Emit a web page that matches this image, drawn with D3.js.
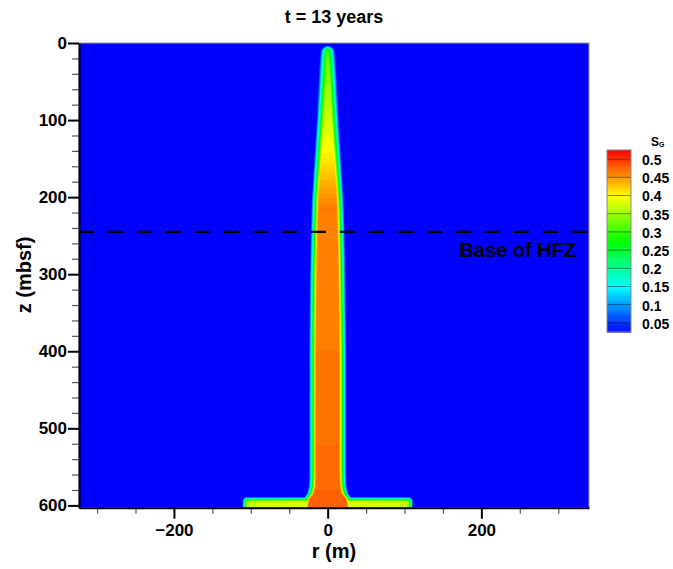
<!DOCTYPE html>
<html><head><meta charset="utf-8">
<script src="https://cdn.jsdelivr.net/npm/d3@7"></script>
<style>
body{margin:0;background:#fff;}
svg{display:block;}
text{font-family:Arial,"Liberation Sans",sans-serif;font-weight:bold;fill:#000;}
</style>
</head><body>
<svg id="c" width="673" height="569"></svg>
<script>
// ---------- data ----------
const title = "t = 13 years";
const xLabel = "r (m)";
const yLabel = "z (mbsf)";
const xDomain = [-323.5, 340];
const zDomain = [0, 603];
const xMajorTicks = [-200, 0, 200];
const xMinorTicks = [-300, -250, -150, -100, -50, 50, 100, 150, 250, 300];
const zMajorTicks = [0, 100, 200, 300, 400, 500, 600];
const zMinorTicks = [20, 40, 60, 80, 120, 140, 160, 180, 220, 240, 260, 280, 320, 340, 360, 380,
                     420, 440, 460, 480, 520, 540, 560, 580];

// gas plume trunk: outer half-width (m) versus depth
const trunkDepth     = [2.5, 5, 10, 20, 40, 70, 100, 150, 200, 250, 300, 400, 500, 560, 575, 585, 592, 603];
const trunkHalfWidth = [4, 8, 10, 11, 12, 13.5, 15, 18, 21, 22.5, 23.5, 24.5, 24.5, 24.5, 25, 27.5, 33, 35];
// gas saturation on the plume axis versus depth
const coreDepth = [0, 20, 50, 100, 150, 190, 215, 235, 260, 300, 400, 500, 580, 603];
const coreSg    = [0.31, 0.325, 0.345, 0.375, 0.41, 0.445, 0.465, 0.462, 0.46, 0.462, 0.465, 0.468, 0.475, 0.48];
const plumeTop = 2.5;

// gas layer spreading along the bottom boundary
const layerTop = 589;
const layerHalfLength = 111;
const layerR  = [0, 30, 60, 90, 105, 111];
const layerSg = [0.40, 0.385, 0.38, 0.375, 0.36, 0.34];

// base of hydrate free zone
const hfzDepth = 245;
const hfzLabel = "Base of HFZ";

// colour legend
const cbTitle = "S";
const cbSub = "G";
const cbLevels = [0.05, 0.1, 0.15, 0.2, 0.25, 0.3, 0.35, 0.4, 0.45, 0.5];
const cbLabels = ["0.05", "0.1", "0.15", "0.2", "0.25", "0.3", "0.35", "0.4", "0.45", "0.5"];
const cbRange = [0.025, 0.525];
const cmapStops = [0.025, 0.15, 0.275, 0.4, 0.525];
const cmapColors = ["#0000ff", "#00ffff", "#00ff00", "#ffff00", "#ff0000"];

// ---------- chart ----------
const svg = d3.select("#c");
const plot = {left: 79, right: 589, top: 43, bottom: 507.7};
const x = d3.scaleLinear().domain(xDomain).range([plot.left, plot.right]);
const y = d3.scaleLinear().domain(zDomain).range([plot.top, plot.bottom]);
const cmap = d3.scaleLinear().domain(cmapStops).range(cmapColors).clamp(true);

const hwS = d3.scaleLinear().domain(trunkDepth).range(trunkHalfWidth).clamp(true);
const coreS = d3.scaleLinear().domain(coreDepth).range(coreSg).clamp(true);
const layerS = d3.scaleLinear().domain(layerR).range(layerSg).clamp(true);

const edgeW = 10, capW = 6, edgeL = 6, cornerR = 5;
const clamp01 = v => Math.max(0, Math.min(1, v));

function field(r, z) {
  let t = 0;
  if (z >= plumeTop) {
    const a = clamp01((hwS(z) - Math.abs(r)) / edgeW);
    const b = clamp01((z - plumeTop) / capW);
    t = coreS(z) * a * b;
  }
  let l = 0;
  const dx = layerHalfLength - Math.abs(r), dzz = z - layerTop;
  if (dx > 0 && dzz > 0) {
    let d;
    if (dx < cornerR && dzz < cornerR) d = cornerR - Math.hypot(cornerR - dx, cornerR - dzz);
    else d = Math.min(dx, dzz);
    l = layerS(Math.abs(r)) * clamp01(d / edgeL);
  }
  return Math.max(t, l);
}

const dr = 0.5, dz = 1, r0 = -125, r1 = 125;
const nx = Math.round((r1 - r0) / dr) + 1;
const nz = Math.round((zDomain[1] - zDomain[0]) / dz) + 1;
const values = new Float64Array(nx * nz);
for (let j = 0; j < nz; j++) {
  const z = zDomain[0] + j * dz;
  for (let i = 0; i < nx; i++) values[j * nx + i] = field(r0 + i * dr, z);
}

const defs = svg.append("defs");
defs.append("clipPath").attr("id", "clip").append("rect")
  .attr("x", plot.left).attr("y", plot.top)
  .attr("width", plot.right - plot.left).attr("height", plot.bottom - plot.top);

const gPlot = svg.append("g").attr("clip-path", "url(#clip)");
gPlot.append("rect")
  .attr("x", plot.left).attr("y", plot.top)
  .attr("width", plot.right - plot.left).attr("height", plot.bottom - plot.top)
  .attr("fill", cmap(0));

const thresholds = d3.range(0, 100).map(k => 0.03 + k * 0.005).filter(v => v < 0.53);
const contours = d3.contours().size([nx, nz]).thresholds(thresholds)(values);
const proj = d3.geoTransform({
  point(px, py) { this.stream.point(x(r0 + (px - 0.5) * dr), y(zDomain[0] + (py - 0.5) * dz)); }
});
const path = d3.geoPath(proj);
gPlot.selectAll("path.c").data(contours).join("path")
  .attr("class", "c")
  .attr("d", path)
  .attr("fill", d => cmap(d.value + 0.0025))
  .attr("stroke", d => cmap(d.value + 0.0025))
  .attr("stroke-width", 0.3);

// HFZ line
svg.append("line")
  .attr("x1", x(xDomain[0])).attr("x2", x(xDomain[1]))
  .attr("y1", y(hfzDepth)).attr("y2", y(hfzDepth))
  .attr("stroke", "#000").attr("stroke-width", 2.2).attr("stroke-dasharray", "15,14");
svg.append("text").attr("x", 576).attr("y", 257).attr("text-anchor", "end")
  .style("font-size", "20px").text(hfzLabel);

// frame
svg.append("rect")
  .attr("x", plot.left).attr("y", plot.top)
  .attr("width", plot.right - plot.left).attr("height", plot.bottom - plot.top)
  .attr("fill", "none").attr("stroke", "#9a9a9a").attr("stroke-width", 1);

// axes
const gyMin = svg.append("g").attr("transform", `translate(${plot.left},0)`)
  .call(d3.axisLeft(y).tickValues(zMinorTicks).tickSize(7).tickFormat(""));
gyMin.select(".domain").remove();
gyMin.selectAll(".tick line").attr("stroke", "#555").attr("stroke-width", 1.2);

const gy = svg.append("g").attr("transform", `translate(${plot.left},0)`)
  .call(d3.axisLeft(y).tickValues(zMajorTicks).tickSize(11).tickSizeOuter(0).tickPadding(1));
gy.select(".domain").attr("stroke-width", 2);
gy.selectAll(".tick line").attr("stroke-width", 2);
gy.selectAll(".tick text").style("font-size", "17px").style("font-family", "Arial,'Liberation Sans',sans-serif").style("font-weight", "bold");

const gxMin = svg.append("g").attr("transform", `translate(0,${plot.bottom})`)
  .call(d3.axisBottom(x).tickValues(xMinorTicks).tickSize(6).tickFormat(""));
gxMin.select(".domain").remove();
gxMin.selectAll(".tick line").attr("stroke", "#555").attr("stroke-width", 1.2);

const gx = svg.append("g").attr("transform", `translate(0,${plot.bottom})`)
  .call(d3.axisBottom(x).tickValues(xMajorTicks).tickSize(11).tickSizeOuter(0).tickPadding(5));
gx.select(".domain").attr("stroke-width", 2);
gx.selectAll(".tick text").style("font-size", "17px").style("font-family", "Arial,'Liberation Sans',sans-serif").style("font-weight", "bold");
gx.selectAll(".tick line").attr("stroke-width", 2);

// labels
svg.append("text").attr("x", 334).attr("y", 23).attr("text-anchor", "middle")
  .style("font-size", "18px").text(title);
svg.append("text").attr("x", 334).attr("y", 558).attr("text-anchor", "middle")
  .style("font-size", "20px").text(xLabel);
svg.append("text").attr("transform", "translate(31,275) rotate(-90)").attr("text-anchor", "middle")
  .style("font-size", "20px").text(yLabel);

// colour bar
const cbX = 607, cbW = 24;
const cb = d3.scaleLinear().domain(cbRange).range([332, 150]);
const gcb = svg.append("g");
const steps = d3.range(0, 200).map(k => cbRange[0] + k * 0.0025).filter(v => v < cbRange[1] - 1e-9);
gcb.selectAll("rect.s").data(steps).join("rect")
  .attr("class", "s")
  .attr("x", cbX).attr("width", cbW)
  .attr("y", d => cb(d + 0.0025))
  .attr("height", d => cb(d) - cb(d + 0.0025) + 0.6)
  .attr("fill", d => cmap(d + 0.00125));
gcb.selectAll("line.l").data(cbLevels).join("line")
  .attr("class", "l")
  .attr("x1", cbX).attr("x2", cbX + cbW)
  .attr("y1", d => cb(d)).attr("y2", d => cb(d))
  .attr("stroke", "rgba(0,0,0,0.45)").attr("stroke-width", 1);
gcb.append("rect").attr("x", cbX).attr("y", cb(cbRange[1])).attr("width", cbW)
  .attr("height", cb(cbRange[0]) - cb(cbRange[1]))
  .attr("fill", "none").attr("stroke", "#888").attr("stroke-width", 1);
gcb.selectAll("text.t").data(cbLevels).join("text")
  .attr("class", "t")
  .attr("x", 642).attr("y", d => cb(d) + 1).attr("dy", "0.35em")
  .style("font-size", "14px")
  .text((d, i) => cbLabels[i]);
const st = svg.append("text").attr("x", 651).attr("y", 146).style("font-size", "12px");
st.append("tspan").text(cbTitle);
st.append("tspan").attr("dy", 1).style("font-size", "7px").text(cbSub);
</script>
</body></html>
